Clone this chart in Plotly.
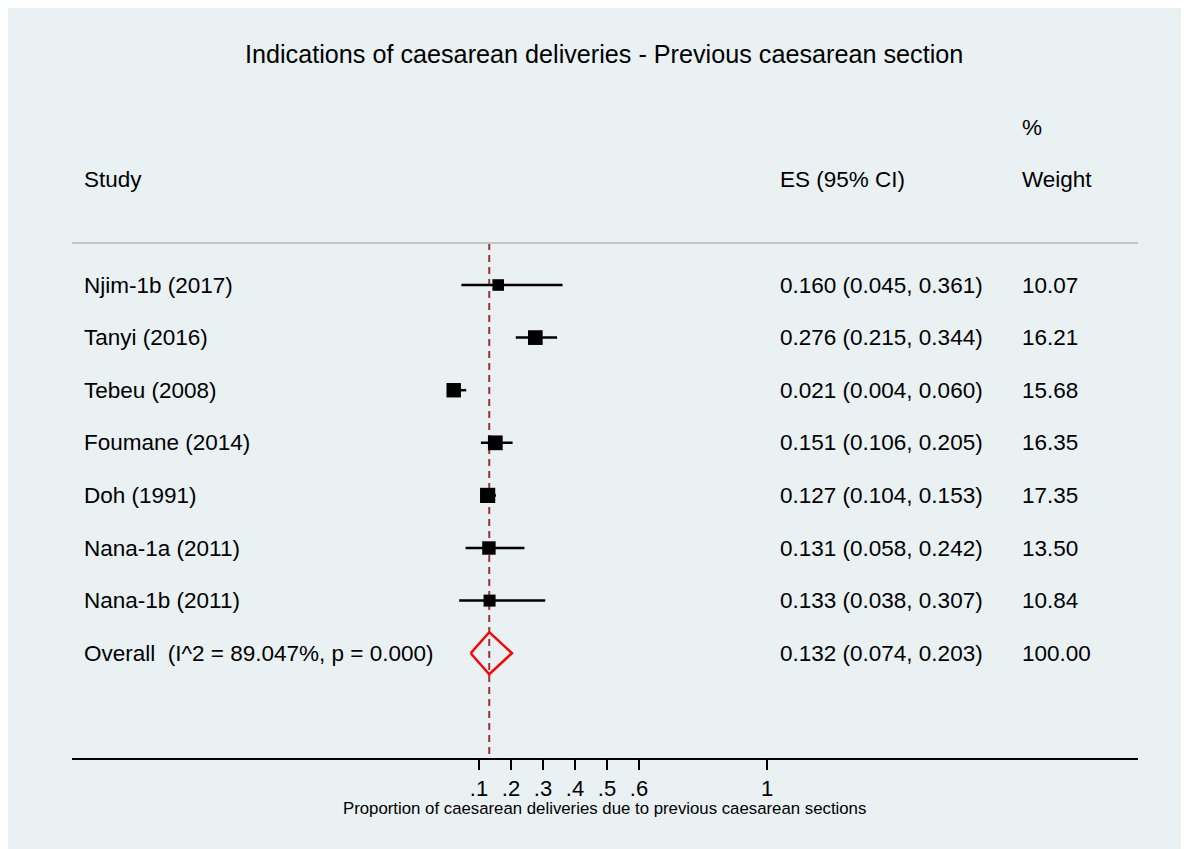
import plotly.graph_objects as go

# ---- data ----
studies = ["Njim-1b (2017)", "Tanyi (2016)", "Tebeu (2008)", "Foumane (2014)",
           "Doh (1991)", "Nana-1a (2011)", "Nana-1b (2011)"]
es = [0.160, 0.276, 0.021, 0.151, 0.127, 0.131, 0.133]
ci_lo = [0.045, 0.215, 0.004, 0.106, 0.104, 0.058, 0.038]
ci_hi = [0.361, 0.344, 0.060, 0.205, 0.153, 0.242, 0.307]
weights = [10.07, 16.21, 15.68, 16.35, 17.35, 13.50, 10.84]

overall_es = 0.132
overall_lo = 0.074
overall_hi = 0.203
overall_weight = 100.00
i2 = 89.047
p_val = 0.000

tick_vals = [0.1, 0.2, 0.3, 0.4, 0.5, 0.6, 1.0]
tick_text = [".1", ".2", ".3", ".4", ".5", ".6", "1"]

title_text = "Indications of caesarean deliveries - Previous caesarean section"
xaxis_title = "Proportion of caesarean deliveries due to previous caesarean sections"

# ---- layout constants ----
BG = "#E9F1F3"
FONT = "Arimo, Liberation Sans, Arial, sans-serif"
n = len(studies)
rows = [n + 1 - i for i in range(n)]      # 8 .. 2
overall_row = 1
y_bottom, y_top = -0.992, 13.266
x_left, x_right = -1.1719, 2.1594

fig = go.Figure()

# reference dashed line at overall estimate
fig.add_trace(go.Scatter(x=[overall_es, overall_es], y=[8.8, y_bottom], mode="lines",
                         line=dict(color="#A0303C", width=2, dash="7px,5px"),
                         hoverinfo="skip", showlegend=False))

# confidence intervals
for lo, hi, r in zip(ci_lo, ci_hi, rows):
    fig.add_trace(go.Scatter(x=[lo, hi], y=[r, r], mode="lines",
                             line=dict(color="black", width=2.5),
                             hoverinfo="skip", showlegend=False))

# weighted squares
fig.add_trace(go.Scatter(x=es, y=rows, mode="markers",
                         marker=dict(symbol="square", color="#000000", opacity=1,
                                     size=[3.65 * w ** 0.5 for w in weights],
                                     line=dict(width=0)),
                         hoverinfo="skip", showlegend=False))

# overall diamond
dh = 0.4
fig.add_trace(go.Scatter(
    x=[overall_lo, overall_es, overall_hi, overall_es, overall_lo],
    y=[overall_row, overall_row + dh, overall_row, overall_row - dh, overall_row],
    mode="lines", line=dict(color="red", width=2.5),
    hoverinfo="skip", showlegend=False))

# separator line under header
fig.add_shape(type="line", xref="paper", yref="y", x0=0, x1=1, y0=8.8, y1=8.8,
              line=dict(color="#C4C4C4", width=2))

ann = []
X_STUDY, X_ES, X_W = 0.0094, 0.6623, 0.8893
FS = 22.5


def txt(x, y, s, size=FS, xanchor="left", yref="y"):
    ann.append(dict(x=x, y=y, xref="paper", yref=yref, text=s, showarrow=False,
                    xanchor=xanchor, yanchor="middle",
                    font=dict(family=FONT, size=size, color="black")))


# headers
txt(X_STUDY, 10.0, "Study")
txt(X_ES, 10.0, "ES (95% CI)")
txt(X_W, 11.0, "%")
txt(X_W, 10.0, "Weight")

for s, e, lo, hi, w, r in zip(studies, es, ci_lo, ci_hi, weights, rows):
    txt(X_STUDY, r, s)
    txt(X_ES, r, f"{e:.3f} ({lo:.3f}, {hi:.3f})")
    txt(X_W, r, f"{w:.2f}")

txt(X_STUDY, overall_row, f"Overall&nbsp; (I^2 = {i2:.3f}%, p = {p_val:.3f})")
txt(X_ES, overall_row, f"{overall_es:.3f} ({overall_lo:.3f}, {overall_hi:.3f})")
txt(X_W, overall_row, f"{overall_weight:.2f}")

# title
txt(0.4995, 12.39, title_text, size=25.2, xanchor="center")
# x axis title
txt(0.4995, -0.0667, xaxis_title, size=16.8, xanchor="center", yref="paper")

fig.update_layout(
    width=1197, height=857,
    margin=dict(l=64, r=67, t=0, b=107, pad=0),
    paper_bgcolor=BG, plot_bgcolor=BG,
    annotations=ann,
    showlegend=False,
    xaxis=dict(range=[x_left, x_right], tickvals=tick_vals, ticktext=tick_text,
               showgrid=False, zeroline=False, showline=True, linecolor="black",
               linewidth=1.5, ticks="outside", ticklen=10, tickwidth=1.8,
               tickcolor="black",
               tickfont=dict(family=FONT, size=22, color="black")),
    yaxis=dict(range=[y_bottom, y_top], visible=False, showgrid=False,
               zeroline=False),
)

fig.write_html("out.html")
